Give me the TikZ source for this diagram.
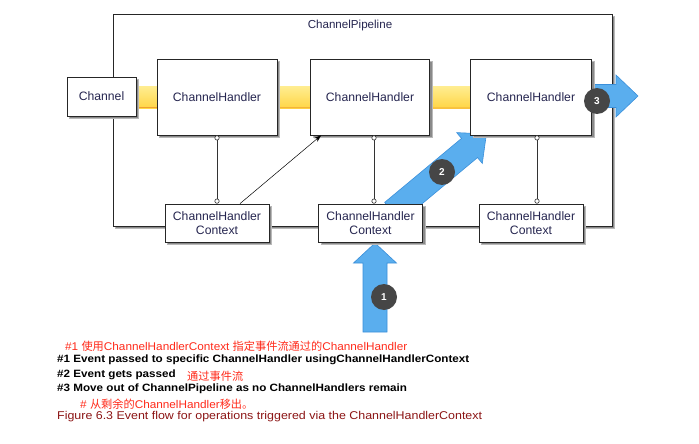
\documentclass[tikz,border=0pt]{standalone}
\usepackage{fontspec}
\setmainfont{Liberation Sans}
\newfontfamily\cjk{Noto Sans CJK SC}
\newfontfamily\widesans[FakeStretch=1.1]{Liberation Sans}
\newfontfamily\notesans[FakeStretch=1.05]{Liberation Sans}
\usetikzlibrary{arrows.meta,calc}
\pgfdeclarelayer{background}
\pgfsetlayers{background,main}
\definecolor{boxtext}{HTML}{262650}
\definecolor{arrowblue}{HTML}{5AAEEE}
\definecolor{arrowedge}{HTML}{3A8FDA}
\definecolor{badgegray}{HTML}{464646}
\definecolor{notered}{HTML}{FF2A1A}
\definecolor{captionred}{HTML}{8B1414}
\definecolor{baryellow}{HTML}{FFD646}
\definecolor{barlight}{HTML}{FFEC8E}
\definecolor{barorange}{HTML}{F0A030}
\definecolor{shadowgray}{HTML}{8A8A8A}
\begin{document}
\begin{tikzpicture}[x=1pt,y=-1pt,
  shadowed/.style={preaction={fill=shadowgray, draw=shadowgray!60, line width=1pt,
      transform canvas={xshift=2.5pt,yshift=-2.5pt}}},
  box/.style={draw=black!85, line width=0.8pt, fill=white, shadowed,
    font=\fontsize{12.2}{14}\selectfont, text=boxtext, inner sep=0pt, align=center},
  bigarrow/.style={fill=arrowblue, draw=arrowedge, line width=0.6pt, line join=miter},
  badge/.style={circle, fill=badgegray, text=white, font=\bfseries\fontsize{10}{10}\selectfont,
    minimum size=26pt, inner sep=0pt},
  link/.style={line width=0.6pt, black!80, {Circle[length=5pt,fill=white]}-{Circle[length=5pt,fill=white]}},
  note/.style={text=notered, font=\notesans\fontsize{11.2}{12}\selectfont, inner sep=0pt, anchor=base west},
  boldline/.style={font=\widesans\bfseries\fontsize{10.6}{12}\selectfont, inner sep=0pt, anchor=base west},
  captionline/.style={text=captionred, font=\widesans\fontsize{11.3}{13}\selectfont, inner sep=0pt, anchor=base west}
]
\path[use as bounding box] (0,0) rectangle (699,444);

% handlers and contexts
\node[box, minimum width=69pt, minimum height=39pt] (chan) at (101.5,96.5) {Channel};
\node[box, minimum width=120pt, minimum height=76pt] (h1) at (217,97) {ChannelHandler};
\node[box, minimum width=119pt, minimum height=76pt] (h2) at (370,97) {ChannelHandler};
\node[box, minimum width=121pt, minimum height=76pt] (h3) at (531,97) {ChannelHandler};
\node[box, minimum width=104pt, minimum height=38pt] (c1) at (217,223) {ChannelHandler\\Context};
\node[box, minimum width=104pt, minimum height=38pt] (c2) at (370.5,223) {ChannelHandler\\Context};
\node[box, minimum width=104pt, minimum height=38pt] (c3) at (531,223) {ChannelHandler\\Context};

\begin{pgfonlayer}{background}
  \node[draw=black!85, line width=0.8pt, fill=white, shadowed, minimum width=499pt,
        minimum height=212pt, inner sep=0pt] (pipe) at (362.5,120) {};
  \node[text=boxtext, font=\fontsize{11.6}{13}\selectfont, inner sep=0pt] (title) at (350,26) {ChannelPipeline};
  % event bar
  \fill[top color=barlight, bottom color=baryellow] ([yshift=9.5pt]chan.east) rectangle ([yshift=-11pt]h3.west);
  \draw[barorange, line width=0.8pt] ([yshift=-11pt]chan.east) -- ([yshift=-11pt]h3.west);
  % arrow 2
  \begin{scope}[shift={(469.5,148)}, rotate=39.8]
    \path[bigarrow] (-100,-12.5) -- (0,-12.5) -- (0,-20) -- (22,0) -- (0,20) -- (0,12.5) -- (-100,12.5) -- cycle;
  \end{scope}
  % arrow 1
  \begin{scope}[shift={(375,263)}, rotate=90]
    \path[bigarrow] (-69,-12) -- (0,-12) -- (0,-21.5) -- (20,0) -- (0,21.5) -- (0,12) -- (-69,12) -- cycle;
  \end{scope}
  % arrow 3
  \begin{scope}[shift={(616,96)}]
    \path[bigarrow] (-36,-11.5) -- (0,-11.5) -- (0,-21) -- (22,0) -- (0,21) -- (0,11.5) -- (-36,11.5) -- cycle;
  \end{scope}
\end{pgfonlayer}

% handler - context links
\draw[link] (h1.south) -- (c1.north);
\draw[link] ([xshift=4pt]h2.south) -- ([xshift=3.5pt]c2.north);
\draw[link] ([xshift=6pt]h3.south) -- ([xshift=6pt]c3.north);
% direct pass
\draw[line width=0.5pt, -{Stealth[length=7pt,width=5pt]}] ([xshift=23pt]c1.north) -- ([xshift=11pt]h2.south west);

% badges
\node[badge] (b1) at (384,297) {1};
\node[badge] (b2) at (442,172) {2};
\node[badge] (b3) at (597,101) {3};

% notes
\node[note] (n1) at (65,350) {\#1 {\cjk 使用}ChannelHandlerContext {\cjk 指定事件流通过的}ChannelHandler};
\node[boldline] (l1) at (57,362.3) {\#1 Event passed to specific ChannelHandler usingChannelHandlerContext};
\node[boldline] (l2) at (57,377.3) {\#2 Event gets passed};
\node[note] (n2) at (187,380) {{\cjk 通过事件流}};
\node[boldline] (l3) at (57,391.7) {\#3 Move out of ChannelPipeline as no ChannelHandlers remain};
\node[note] (n3) at (80,408.5) {\# {\cjk 从剩余的}ChannelHandler{\cjk 移出。}};
\node[captionline] (cap) at (57,419.5) {Figure 6.3 Event flow for operations triggered via the ChannelHandlerContext};
\end{tikzpicture}
\end{document}
